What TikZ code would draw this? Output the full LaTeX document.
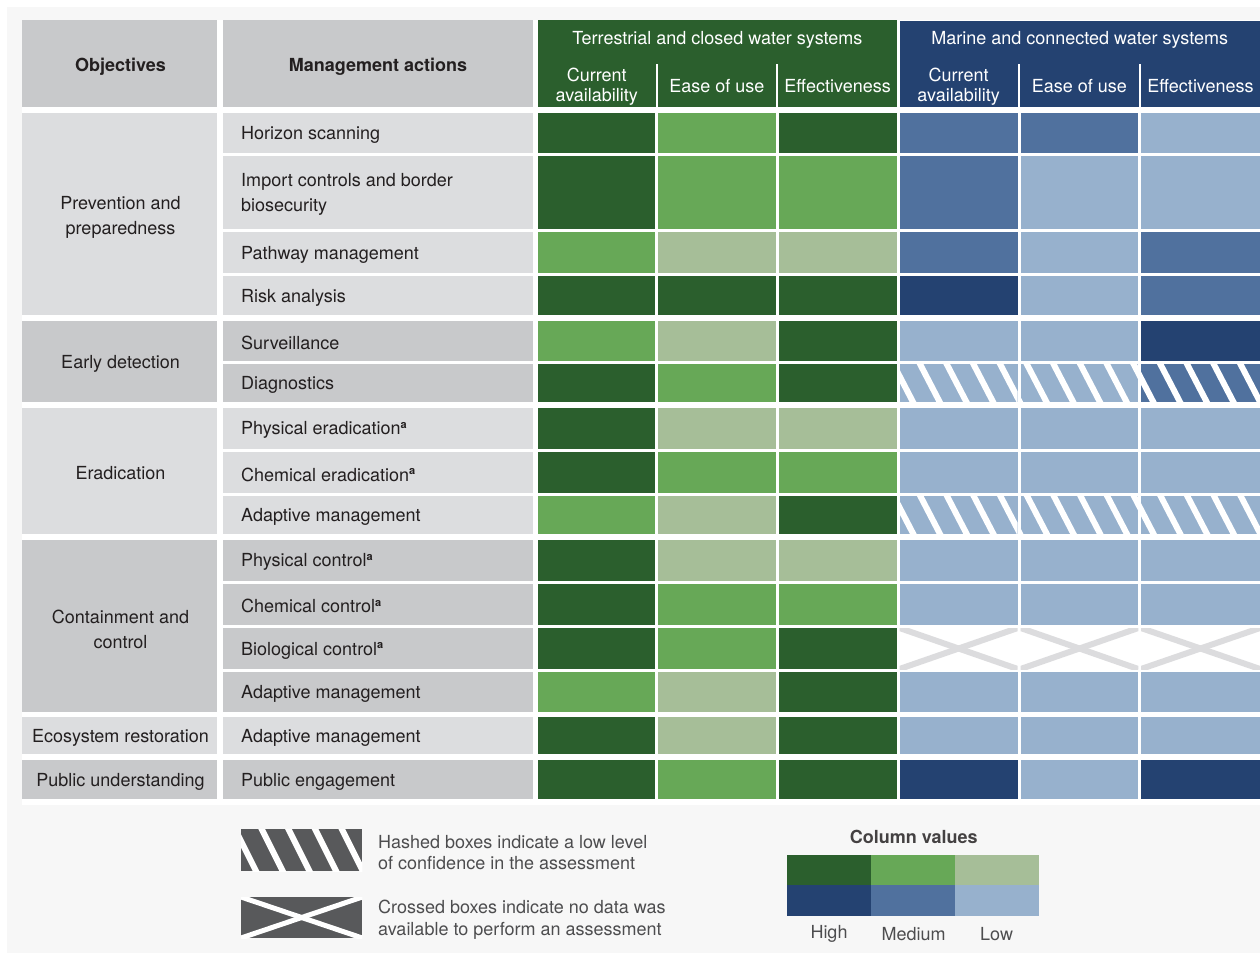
\documentclass[tikz,border=0pt]{standalone}
\usepackage{fontspec}
\setmainfont{TeX Gyre Heros}
\usepackage{xcolor}
\usepackage{tikz}

\definecolor{hiGreen}{HTML}{2B5F2D}
\definecolor{midGreen}{HTML}{67A857}
\definecolor{loGreen}{HTML}{A6BE98}
\definecolor{hiBlue}{HTML}{244271}
\definecolor{midBlue}{HTML}{50719E}
\definecolor{loBlue}{HTML}{97B1CD}
\definecolor{cellDark}{HTML}{C8C9CB}
\definecolor{cellLight}{HTML}{DCDDDF}
\definecolor{pageGray}{HTML}{F7F7F7}
\definecolor{crossGray}{HTML}{DCDCDE}
\definecolor{keyGray}{HTML}{58595B}
\definecolor{inkText}{HTML}{231F20}
\definecolor{keyInk}{HTML}{4D4D4F}

\newcommand{\supa}{\textsuperscript{\fontsize{11}{11}\selectfont\bfseries a}}

\tikzset{
    headtext/.style={text=white, inner sep=0pt, yshift=-2pt, align=center, font=\fontsize{18}{20}\selectfont},
    boldhead/.style={text=inkText, inner sep=0pt, yshift=-2.5pt, align=center, font=\fontsize{18}{22}\selectfont\bfseries},
    objlabel/.style={text=inkText, inner sep=0pt, yshift=-2.5pt, align=center, font=\fontsize{18}{25}\selectfont},
    actlabel/.style={text=inkText, inner sep=0pt, yshift=-2pt, anchor=west, align=left, font=\fontsize{18}{25}\selectfont},
    keytext/.style={text=keyInk, inner sep=0pt, yshift=-1.5pt, anchor=west, align=left, font=\fontsize{18}{21.5}\selectfont},
    keylabel/.style={text=keyInk, inner sep=0pt, yshift=-1.5pt, font=\fontsize{18}{21}\selectfont},
    hatchline/.style={white, line width=6pt},
    crossline/.style={crossGray, line width=6pt},
}

\begin{document}
\begin{tikzpicture}[x=1pt,y=-1pt]

    \useasboundingbox (0,0) rectangle (1260,953);
    \fill[white] (0,0) rectangle (1260,953);
    \fill[pageGray] (7,7) rectangle (1260,953);
    \fill[white] (21.7,20) rectangle (1260,805);

    % header
    \fill[cellDark] (21.7,20) rectangle (217,107);
    \fill[cellDark] (223.4,20) rectangle (532.7,107);
    \fill[hiGreen] (538.3,20) rectangle (896.5,107);
    \fill[hiBlue] (899.5,21) rectangle (1260,107);
    \draw[white, line width=2pt] (656.7,64) -- (656.7,107);
    \draw[white, line width=2pt] (777.2,64) -- (777.2,107);
    \draw[white, line width=2pt] (1019.1,64) -- (1019.1,107);
    \draw[white, line width=2pt] (1139.7,64) -- (1139.7,107);

    \node[boldhead] (objhead) at (120.5,64) {Objectives};
    \node[boldhead] (acthead) at (378,64) {Management actions};
    \node[headtext] (terrhead) at (717.4,38) {Terrestrial and closed water systems};
    \node[headtext] (marhead) at (1079.7,38) {Marine and connected water systems};
    \node[headtext] (terravail) at (596.8,84.3) {Current\\availability};
    \node[headtext] (terrease) at (716.9,84.3) {Ease of use};
    \node[headtext] (terreff) at (837.6,84.3) {Effectiveness};
    \node[headtext] (maravail) at (958.6,84.3) {Current\\availability};
    \node[headtext] (marease) at (1079.4,84.3) {Ease of use};
    \node[headtext] (mareff) at (1200.5,84.3) {Effectiveness};

    % objectives column
    \fill[cellLight] (21.7,112.7) rectangle (217,315);
    \fill[cellDark] (21.7,320.7) rectangle (217,401.7);
    \fill[cellLight] (21.7,407.7) rectangle (217,533.7);
    \fill[cellDark] (21.7,539.7) rectangle (217,712);
    \fill[cellLight] (21.7,717.3) rectangle (217,754);
    \fill[cellDark] (21.7,760) rectangle (217,798.7);

    \node[objlabel] (prevent) at (120.5,214.5) {Prevention and\\preparedness};
    \node[objlabel] (early) at (120.5,361.2) {Early detection};
    \node[objlabel] (eradic) at (120.5,470.7) {Eradication};
    \node[objlabel] (contain) at (120.5,626.5) {Containment and\\control};
    \node[objlabel] (ecosys) at (120.5,735.7) {Ecosystem restoration};
    \node[objlabel] (public) at (120.5,779.4) {Public understanding};

    % management actions column
    \foreach \ya/\yb/\shade in {112.7/152.7/cellLight, 155.7/229/cellLight, 232.3/272.7/cellLight,
        276/315/cellLight, 320.7/361/cellDark, 364.3/401.7/cellDark, 407.7/449/cellLight,
        452.3/492.7/cellLight, 495.7/533.7/cellLight, 539.7/580.7/cellDark, 583.7/624.7/cellDark,
        628/669/cellDark, 672.3/712/cellDark, 717.3/754/cellLight, 760/798.7/cellDark}
        \fill[\shade] (223.4,\ya) rectangle (532.7,\yb);

    \node[actlabel] (horizon) at (241,132.7) {Horizon scanning};
    \node[actlabel] (import) at (241,192.8) {Import controls and border\\biosecurity};
    \node[actlabel] (pathway) at (241,252.5) {Pathway management};
    \node[actlabel] (risk) at (241,295.5) {Risk analysis};
    \node[actlabel] (surveil) at (241,340.9) {Surveillance};
    \node[actlabel] (diagn) at (241,383) {Diagnostics};
    \node[actlabel] (physerad) at (241,428.3) {Physical eradication\supa};
    \node[actlabel] (chemerad) at (241,472.5) {Chemical eradication\supa};
    \node[actlabel] (adapterad) at (241,514.7) {Adaptive management};
    \node[actlabel] (physctrl) at (241,560.2) {Physical control\supa};
    \node[actlabel] (chemctrl) at (241,604.2) {Chemical control\supa};
    \node[actlabel] (bioctrl) at (241,648.5) {Biological control\supa};
    \node[actlabel] (adaptctrl) at (241,692.2) {Adaptive management};
    \node[actlabel] (adaptrest) at (241,735.7) {Adaptive management};
    \node[actlabel] (engage) at (241,779.4) {Public engagement};

    % value cells
    \foreach \ya/\yb/\ta/\tb/\tc/\ma/\mb/\mc in {
        112.7/152.7/hiGreen/midGreen/hiGreen/midBlue/midBlue/loBlue,
        155.7/229/hiGreen/midGreen/midGreen/midBlue/loBlue/loBlue,
        232.3/272.7/midGreen/loGreen/loGreen/midBlue/loBlue/midBlue,
        276/315/hiGreen/hiGreen/hiGreen/hiBlue/loBlue/midBlue,
        320.7/361/midGreen/loGreen/hiGreen/loBlue/loBlue/hiBlue,
        364.3/401.7/hiGreen/midGreen/hiGreen/loBlue/loBlue/midBlue,
        407.7/449/hiGreen/loGreen/loGreen/loBlue/loBlue/loBlue,
        452.3/492.7/hiGreen/midGreen/midGreen/loBlue/loBlue/loBlue,
        495.7/533.7/midGreen/loGreen/hiGreen/loBlue/loBlue/loBlue,
        539.7/580.7/hiGreen/loGreen/loGreen/loBlue/loBlue/loBlue,
        583.7/624.7/hiGreen/midGreen/midGreen/loBlue/loBlue/loBlue,
        628/669/hiGreen/midGreen/hiGreen/white/white/white,
        672.3/712/midGreen/loGreen/hiGreen/loBlue/loBlue/loBlue,
        717.3/754/hiGreen/loGreen/hiGreen/loBlue/loBlue/loBlue,
        760/798.7/hiGreen/midGreen/hiGreen/hiBlue/loBlue/hiBlue}
    {
        \fill[\ta] (538.3,\ya) rectangle (655.3,\yb);
        \fill[\tb] (658,\ya) rectangle (775.7,\yb);
        \fill[\tc] (778.7,\ya) rectangle (896.5,\yb);
        \fill[\ma] (899.5,\ya) rectangle (1017.7,\yb);
        \fill[\mb] (1020.5,\ya) rectangle (1138.3,\yb);
        \fill[\mc] (1141,\ya) rectangle (1260,\yb);
    }

    % hatched cells (low confidence)
    \foreach \ya/\yb/\xa/\xb in {364.3/401.7/899.5/1017.7, 364.3/401.7/1020.5/1138.3, 364.3/401.7/1141/1260,
        495.7/533.7/899.5/1017.7, 495.7/533.7/1020.5/1138.3, 495.7/533.7/1141/1260}
    {
        \begin{scope}
            \clip (\xa,\ya) rectangle (\xb,\yb);
            \foreach \k in {-1,...,13}
                \draw[hatchline] ({920+26.7*\k-4},\ya-8) -- ++(28,54);
        \end{scope}
    }

    % crossed cells (no data)
    \foreach \xa/\xb in {899.5/1017.7, 1020.5/1138.3, 1141/1260}
    {
        \begin{scope}
            \clip (\xa,628) rectangle (\xb,669);
            \draw[crossline] (\xa,628) -- (\xb,669);
            \draw[crossline] (\xa,669) -- (\xb,628);
        \end{scope}
    }

    % legend
    \fill[keyGray] (241,829.3) rectangle (362.3,871);
    \begin{scope}
        \clip (241,829.3) rectangle (362.3,871);
        \foreach \k in {-1,...,5}
            \draw[hatchline] ({235+26.7*\k-4},821) -- ++(28,56);
    \end{scope}
    \node[keytext] (hashkey) at (378,851) {Hashed boxes indicate a low level\\of confidence in the assessment};

    \fill[keyGray] (241,897) rectangle (362.3,938);
    \begin{scope}
        \clip (241,897) rectangle (362.3,938);
        \draw[white, line width=5pt] (241,897) -- (362.3,938);
        \draw[white, line width=5pt] (241,938) -- (362.3,897);
    \end{scope}
    \node[keytext] (crosskey) at (378,918) {Crossed boxes indicate no data was\\available to perform an assessment};

    \node[boldhead, text=inkText!85, yshift=1pt] (colvalues) at (913.7,835) {Column values};
    \fill[hiGreen] (787,855) rectangle (871,885);
    \fill[midGreen] (871,855) rectangle (955,885);
    \fill[loGreen] (955,855) rectangle (1038.5,885);
    \fill[hiBlue] (787,885) rectangle (871,915.7);
    \fill[midBlue] (871,885) rectangle (955,915.7);
    \fill[loBlue] (955,885) rectangle (1038.5,915.7);
    \node[keylabel] (high) at (829,932.5) {High};
    \node[keylabel] (medium) at (913.7,932.5) {Medium};
    \node[keylabel] (low) at (996.6,932.5) {Low};

\end{tikzpicture}
\end{document}
